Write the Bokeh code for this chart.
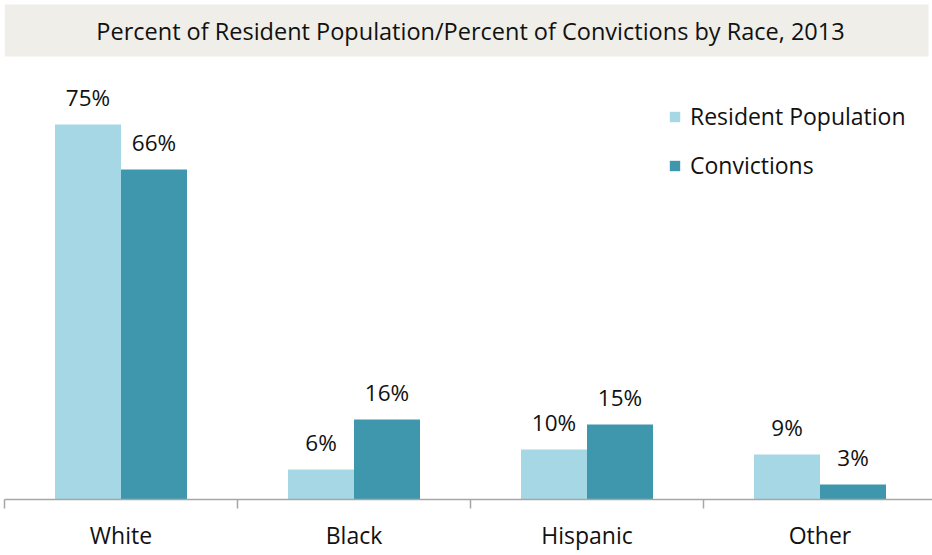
from bokeh.plotting import figure
from bokeh.models import Range1d, FixedTicker, ColumnDataSource, Legend, LegendItem
from bokeh.core.properties import value
from bokeh.embed import file_html
from bokeh.resources import INLINE

categories = ["White", "Black", "Hispanic", "Other"]
resident = [75, 6, 10, 9]
convictions = [66, 16, 15, 3]
series_names = ["Resident Population", "Convictions"]
title_text = "Percent of Resident Population/Percent of Convictions by Race, 2013"

LIGHT = "#A5D7E5"
DARK = "#3E97AD"
FONT = "Open Sans"

W, H = 932, 555
left_px, bottom_px = 4, 56
frame_h = H - bottom_px   # 499
px_per_cat = 233.0
px_per_pct = 5.0

x_end = (W - left_px) / px_per_cat
y_end = frame_h / px_per_pct

p = figure(width=W, height=H, output_backend="svg", toolbar_location=None,
           x_range=Range1d(0, x_end), y_range=Range1d(0, y_end),
           min_border_left=left_px, min_border_right=0, min_border_top=0,
           min_border_bottom=bottom_px, y_axis_location=None)
p.outline_line_color = None
p.xgrid.visible = False
p.ygrid.visible = False
p.background_fill_color = "white"
p.border_fill_color = "white"

centers = [i + 0.5 for i in range(len(categories))]
bw = 66.0 / px_per_cat
src = ColumnDataSource(dict(
    xl=[c - bw / 2 for c in centers], xr=[c + bw / 2 for c in centers],
    res=resident, con=convictions,
    res_lbl=[f"{v}%" for v in resident], con_lbl=[f"{v}%" for v in convictions]))

r1 = p.vbar(x="xl", top="res", width=bw, bottom=0, source=src,
            fill_color=LIGHT, line_color=None)
r2 = p.vbar(x="xr", top="con", width=bw, bottom=0, source=src,
            fill_color=DARK, line_color=None)

for xcol, ycol, lcol in (("xl", "res", "res_lbl"), ("xr", "con", "con_lbl")):
    p.text(x=xcol, y=ycol, text=lcol, source=src, y_offset=-27,
           text_align="center", text_baseline="alphabetic",
           text_font=value(FONT), text_font_size="22.5px", text_color="#111111")

# title box
tb_top = (frame_h - 4) / px_per_pct
tb_bot = (frame_h - 56) / px_per_pct
p.quad(left=[0], right=[(928 - left_px) / px_per_cat], bottom=[tb_bot], top=[tb_top],
       fill_color="#EFEEE8", line_color=None)
p.text(x=[(470 - left_px) / px_per_cat], y=[(tb_top + tb_bot) / 2], text=[title_text],
       text_align="center", text_baseline="middle", text_font=value(FONT),
       text_font_size="23.5px", text_color="#111111")

# x axis
ax = p.xaxis[0]
ax.ticker = FixedTicker(ticks=centers, minor_ticks=list(range(len(categories) + 1)))
ax.major_label_overrides = {c: n for c, n in zip(centers, categories)}
ax.major_tick_line_color = None
ax.major_tick_out = 0
ax.major_tick_in = 0
ax.minor_tick_out = 9
ax.minor_tick_in = 0
ax.minor_tick_line_color = "#A6A6A6"
ax.axis_line_color = "#A6A6A6"
ax.axis_line_width = 1.5
ax.minor_tick_line_width = 1.5
ax.major_label_standoff = 10
ax.major_label_text_font = FONT
ax.major_label_text_font_size = "23px"
ax.major_label_text_color = "#111111"

legend = Legend(items=[LegendItem(label=series_names[0], renderers=[r1]),
                       LegendItem(label=series_names[1], renderers=[r2])],
                location=(664, 318), orientation="vertical",
                glyph_width=13, glyph_height=13, label_height=13,
                label_standoff=9, spacing=17, padding=0, margin=0,
                border_line_color=None, background_fill_alpha=0,
                label_text_font=FONT, label_text_font_size="23px",
                label_text_color="#111111")
p.add_layout(legend)

open("out.html", "w").write(file_html(p, INLINE))
